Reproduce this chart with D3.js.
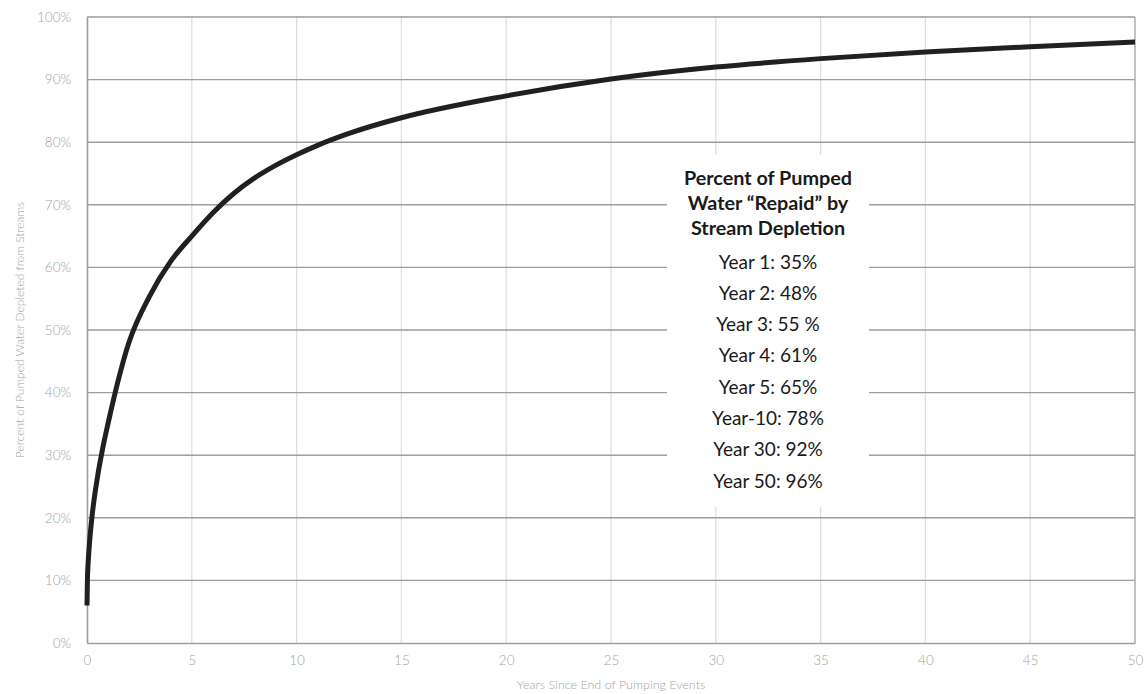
<!DOCTYPE html>
<html>
<head>
<meta charset="utf-8">
<script src="https://cdn.jsdelivr.net/npm/d3@7"></script>
<style>
  html, body { margin: 0; padding: 0; background: #fff; }
  svg { display: block; }
</style>
</head>
<body>
<svg id="chart" width="1145" height="694"></svg>
<script>
// Years since pumping ended, and the share of pumped water depleted from streams (%)
const years = [0, 0.02, 0.06, 0.12, 0.25, 0.5, 0.75, 1, 2, 3, 4, 5, 6, 7, 8, 9, 10, 11, 12.5, 15,
               20, 25, 30, 35, 40, 45, 50];
const depleted = [6, 10.1, 13.1, 16, 20.5, 26.5, 31.1, 35, 48, 55.5, 61, 65, 68.7, 71.8, 74.3, 76.3, 78, 79.5, 81.4, 83.9,
                  87.4, 90.1, 92, 93.35, 94.4, 95.25, 96];

const xTicks = [0, 5, 10, 15, 20, 25, 30, 35, 40, 45, 50];
const yTicks = [0, 10, 20, 30, 40, 50, 60, 70, 80, 90, 100];

const boxTitle = ["Percent of Pumped", "Water \u201CRepaid\u201D by", "Stream Depletion"];
const boxLines = ["Year 1: 35%", "Year 2: 48%", "Year 3: 55 %", "Year 4: 61%", "Year 5: 65%",
                  "Year-10: 78%", "Year 30: 92%", "Year 50: 96%"];

const xTitle = "Years Since End of Pumping Events";
const yTitle = "Percent of Pumped Water Depleted from Streams";

const svg = d3.select("#chart");
const plotL = 87, plotR = 1135, plotT = 17, plotB = 643;

const x = d3.scaleLinear().domain([0, 50]).range([plotL, plotR]);
const y = d3.scaleLinear().domain([0, 100]).range([plotB, plotT]);

const labelFont = "Lato, 'Open Sans', sans-serif";
const tickColor = "#a3a3a3";

// vertical grid (light)
svg.append("g").selectAll("line").data(xTicks.filter(d => d > 0 && d < 50)).join("line")
  .attr("x1", d => x(d)).attr("x2", d => x(d))
  .attr("y1", plotT).attr("y2", plotB)
  .attr("stroke", "#dedede").attr("stroke-width", 1.2);

// horizontal grid (darker)
svg.append("g").selectAll("line").data(yTicks.filter(d => d > 0)).join("line")
  .attr("x1", plotL).attr("x2", plotR)
  .attr("y1", d => y(d)).attr("y2", d => y(d))
  .attr("stroke", "#9d9d9d").attr("stroke-width", 1.4);

// right frame edge
svg.append("line")
  .attr("x1", plotR).attr("x2", plotR).attr("y1", plotT).attr("y2", plotB)
  .attr("stroke", "#a8a8a8").attr("stroke-width", 1.4);

// axes
const xAxis = svg.append("g").attr("transform", `translate(0,${plotB})`)
  .call(d3.axisBottom(x).tickValues(xTicks).tickSize(0).tickPadding(12).tickFormat(d3.format("d")));
const yAxis = svg.append("g").attr("transform", `translate(${plotL},0)`)
  .call(d3.axisLeft(y).tickValues(yTicks).tickSize(0).tickPadding(16).tickFormat(d => d + "%"));

[xAxis, yAxis].forEach(g => {
  g.select(".domain").attr("stroke", "#9d9d9d").attr("stroke-width", 1.6);
  g.selectAll("text").attr("fill", tickColor).attr("font-family", labelFont)
    .attr("font-weight", 300).attr("font-size", 13.5);
});

// annotation panel
const box = { x0: 667, x1: 869, y0: 155, y1: 507 };
svg.append("rect")
  .attr("x", box.x0).attr("y", box.y0)
  .attr("width", box.x1 - box.x0).attr("height", box.y1 - box.y0)
  .attr("fill", "#fff");

const cx = (box.x0 + box.x1) / 2;
svg.append("g").selectAll("text").data(boxTitle).join("text")
  .attr("x", cx).attr("y", (d, i) => 185 + i * 24.8)
  .attr("text-anchor", "middle")
  .attr("font-family", labelFont).attr("font-weight", 700).attr("font-size", 19.8)
  .attr("fill", "#1a1a1a")
  .text(d => d);

svg.append("g").selectAll("text").data(boxLines).join("text")
  .attr("x", cx).attr("y", (d, i) => 268.5 + i * 31.3)
  .attr("text-anchor", "middle")
  .attr("font-family", labelFont).attr("font-weight", 400).attr("font-size", 19)
  .attr("fill", "#1a1a1a")
  .text(d => d);

// depletion curve
const pts = years.map((yr, i) => [yr, depleted[i]]);
svg.append("path")
  .datum(pts)
  .attr("fill", "none")
  .attr("stroke", "#231f20")
  .attr("stroke-width", 5)
  .attr("stroke-linejoin", "round")
  .attr("d", d3.line().x(d => x(d[0])).y(d => y(d[1])).curve(d3.curveMonotoneX));

// axis titles
svg.append("text")
  .attr("x", (plotL + plotR) / 2).attr("y", 689)
  .attr("text-anchor", "middle")
  .attr("font-family", labelFont).attr("font-weight", 300).attr("font-size", 12.5)
  .attr("fill", tickColor)
  .text(xTitle);

svg.append("text")
  .attr("transform", `translate(24,${(plotT + plotB) / 2}) rotate(-90)`)
  .attr("text-anchor", "middle")
  .attr("font-family", labelFont).attr("font-weight", 300).attr("font-size", 12)
  .attr("fill", tickColor)
  .text(yTitle);
</script>
</body>
</html>
